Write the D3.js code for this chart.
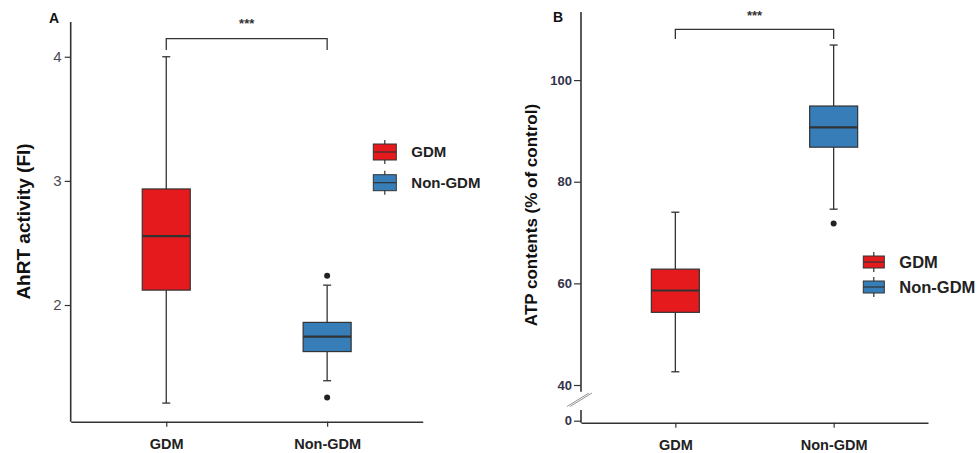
<!DOCTYPE html>
<html>
<head>
<meta charset="utf-8">
<script src="https://cdn.jsdelivr.net/npm/d3@7"></script>
<style>
  body { margin: 0; background: #fff; }
  svg { display: block; font-family: "Liberation Sans", Arial, sans-serif; }
</style>
</head>
<body>
<svg id="chart" width="977" height="453"></svg>
<script>
// groups
var categories = ["GDM", "Non-GDM"];
var colors = ["#e41a1c", "#377eb8"];

// panel A: AhRT activity (FI)
var ahrtLow = [1.21, 1.39];
var ahrtQ1 = [2.12, 1.625];
var ahrtMedian = [2.555, 1.745];
var ahrtQ3 = [2.935, 1.86];
var ahrtHigh = [4.0, 2.16];
var ahrtOutliers = [[], [2.235, 1.255]];
var ahrtTicks = [2, 3, 4];

// panel B: ATP contents (% of control)
var atpLow = [42.6, 74.6];
var atpQ1 = [54.3, 86.8];
var atpMedian = [58.6, 90.7];
var atpQ3 = [62.8, 94.9];
var atpHigh = [74.0, 106.9];
var atpOutliers = [[], [71.8]];
var atpTicks = [0, 40, 60, 80, 100];

var svg = d3.select("#chart");
var ink = "#333";

function boxes(g, x, y, low, q1, med, q3, high, outl) {
  var bw = 48, cap = 8;
  categories.forEach(function(c, i) {
    var cx = x(c);
    g.append("line").attr("x1", cx).attr("x2", cx)
      .attr("y1", y(high[i])).attr("y2", y(low[i]))
      .attr("stroke", ink).attr("stroke-width", 1.3);
    [high[i], low[i]].forEach(function(v) {
      g.append("line").attr("x1", cx - cap / 2).attr("x2", cx + cap / 2)
        .attr("y1", y(v)).attr("y2", y(v))
        .attr("stroke", ink).attr("stroke-width", 1.3);
    });
    g.append("rect").attr("x", cx - bw / 2).attr("width", bw)
      .attr("y", y(q3[i])).attr("height", y(q1[i]) - y(q3[i]))
      .attr("fill", colors[i]).attr("stroke", ink).attr("stroke-width", 1.2);
    g.append("line").attr("x1", cx - bw / 2).attr("x2", cx + bw / 2)
      .attr("y1", y(med[i])).attr("y2", y(med[i]))
      .attr("stroke", ink).attr("stroke-width", 2.2);
    outl[i].forEach(function(v) {
      g.append("circle").attr("cx", cx).attr("cy", y(v)).attr("r", 3).attr("fill", "#222");
    });
  });
}

function bracket(g, x, yTop, yEnd, starY) {
  var x1 = x(categories[0]), x2 = x(categories[1]);
  g.append("path")
    .attr("d", "M" + x1 + "," + yEnd + "V" + yTop + "H" + x2 + "V" + yEnd)
    .attr("fill", "none").attr("stroke", ink).attr("stroke-width", 1.3);
  g.append("text").attr("x", (x1 + x2) / 2).attr("y", starY)
    .attr("text-anchor", "middle").attr("font-size", 13).attr("font-weight", "bold")
    .attr("fill", ink).text("***");
}

function legend(g, lx, ly, w, h, gap, fs) {
  categories.forEach(function(c, i) {
    var top = ly + i * gap, cx = lx + w / 2;
    g.append("line").attr("x1", cx).attr("x2", cx)
      .attr("y1", top - 4).attr("y2", top + h + 4)
      .attr("stroke", ink).attr("stroke-width", 1.2);
    g.append("rect").attr("x", lx).attr("y", top).attr("width", w).attr("height", h)
      .attr("fill", colors[i]).attr("stroke", ink).attr("stroke-width", 1);
    g.append("line").attr("x1", lx).attr("x2", lx + w)
      .attr("y1", top + h / 2).attr("y2", top + h / 2)
      .attr("stroke", ink).attr("stroke-width", 1.2);
    g.append("text").attr("x", lx + w + 15).attr("y", top + h / 2).attr("dy", "0.35em")
      .attr("font-size", fs).attr("font-weight", "bold").attr("fill", "#222").text(c);
  });
}

function xAxis(g, x, y0) {
  g.append("g").attr("transform", "translate(0," + y0 + ")")
    .call(d3.axisBottom(x).tickSize(5).tickSizeOuter(0).tickPadding(12))
    .call(function(a) {
      a.select(".domain").attr("stroke", ink).attr("stroke-width", 1.6);
      a.selectAll(".tick line").attr("stroke", ink).attr("stroke-width", 1.2);
      a.selectAll(".tick text").attr("font-size", 14.5).attr("font-weight", "bold")
        .attr("fill", "#222").attr("font-family", "Liberation Sans, Arial, sans-serif");
    });
}

// ---------- panel A ----------
var gA = svg.append("g");
var xA = d3.scalePoint().domain(categories).range([70.7, 422.7]).padding(0.594);
var yA = d3.scaleLinear().domain([1.06, 4.28]).range([421.7, 22]);

gA.append("g").attr("transform", "translate(70.7,0)")
  .call(d3.axisLeft(yA).tickValues(ahrtTicks).tickSize(6).tickPadding(3).tickFormat(d3.format("d")))
  .call(function(a) {
    a.select(".domain").remove();
    a.selectAll(".tick line").attr("stroke", ink).attr("stroke-width", 1.2);
    a.selectAll(".tick text").attr("font-size", 15).attr("fill", "#4a4a55")
      .attr("font-family", "Liberation Sans, Arial, sans-serif");
  });
gA.append("line").attr("x1", 70.7).attr("x2", 70.7).attr("y1", 22).attr("y2", 421.7)
  .attr("stroke", ink).attr("stroke-width", 1.6);
xAxis(gA, xA, 421.7);

boxes(gA, xA, yA, ahrtLow, ahrtQ1, ahrtMedian, ahrtQ3, ahrtHigh, ahrtOutliers);
bracket(gA, xA, 38.7, 50, 28);
legend(gA, 373.3, 144, 23, 16, 30.7, 15);

gA.append("text").attr("x", 54).attr("y", 22.5).attr("text-anchor", "middle")
  .attr("font-size", 14).attr("font-weight", "bold").attr("fill", "#111").text("A");
gA.append("text").attr("transform", "translate(23.5,221.5) rotate(-90)")
  .attr("dy", "0.35em").attr("text-anchor", "middle")
  .attr("font-size", 19).attr("font-weight", "bold").attr("fill", "#111")
  .text("AhRT activity (FI)");

// ---------- panel B ----------
var gB = svg.append("g");
var xB = d3.scalePoint().domain(categories).range([581, 928]).padding(0.596);
var yB = d3.scaleLinear().domain([0, 40, 113.4]).range([420.7, 385, 12]);

gB.append("g").attr("transform", "translate(581,0)")
  .call(d3.axisLeft(yB).tickValues(atpTicks).tickSize(7).tickPadding(2).tickFormat(d3.format("d")))
  .call(function(a) {
    a.select(".domain").remove();
    a.selectAll(".tick line").attr("stroke", ink).attr("stroke-width", 1.2);
    a.selectAll(".tick text").attr("font-size", 13).attr("font-weight", "bold").attr("fill", "#33334a")
      .attr("font-family", "Liberation Sans, Arial, sans-serif");
  });
// broken y axis
gB.append("line").attr("x1", 581).attr("x2", 581).attr("y1", 12).attr("y2", 391.7)
  .attr("stroke", ink).attr("stroke-width", 1.6);
gB.append("line").attr("x1", 581).attr("x2", 581).attr("y1", 410).attr("y2", 422.7)
  .attr("stroke", ink).attr("stroke-width", 1.6);
[0, 3].forEach(function(o) {
  gB.append("line").attr("x1", 567 + o).attr("y1", 406.5).attr("x2", 589 + o).attr("y2", 393)
    .attr("stroke", "#888").attr("stroke-width", 0.9);
});
xAxis(gB, xB, 422.7);

boxes(gB, xB, yB, atpLow, atpQ1, atpMedian, atpQ3, atpHigh, atpOutliers);
bracket(gB, xB, 29.3, 39, 19.5);
legend(gB, 863.3, 256, 21, 12, 25, 16.5);

gB.append("text").attr("x", 558).attr("y", 21.7).attr("text-anchor", "middle")
  .attr("font-size", 14).attr("font-weight", "bold").attr("fill", "#111").text("B");
gB.append("text").attr("transform", "translate(531,215) rotate(-90)")
  .attr("dy", "0.35em").attr("text-anchor", "middle")
  .attr("font-size", 17).attr("font-weight", "bold").attr("fill", "#111")
  .text("ATP contents (% of control)");
</script>
</body>
</html>
